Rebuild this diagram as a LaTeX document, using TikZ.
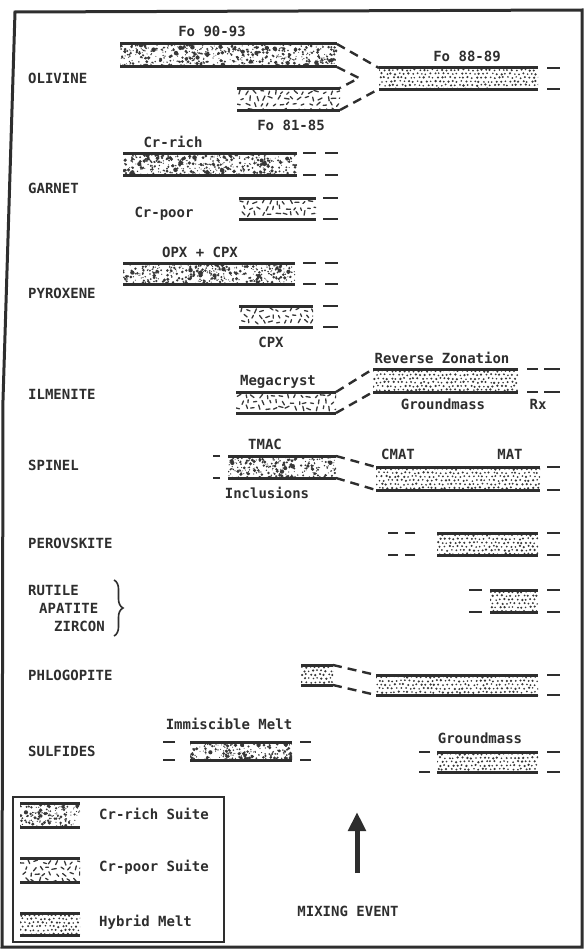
\documentclass[tikz,border=0pt]{standalone}
\usepackage{fontspec}
\setmonofont{DejaVu Sans Mono}
\usetikzlibrary{arrows.meta,decorations.pathreplacing}
\definecolor{ink}{HTML}{2E2E2E}
\definecolor{dotc}{HTML}{383838}

\newcommand\patrich[4]{%
  \pgfmathtruncatemacro\pnn{(#3-#1)*(#4-#2)/9}%
  \foreach \k in {1,...,\pnn}{%
    \pgfmathsetmacro\px{#1+rnd*(#3-#1)}%
    \pgfmathsetmacro\py{#2+rnd*(#4-#2)}%
    \pgfmathsetmacro\rr{0.5+rnd*rnd*1.9}%
    \fill[dotc] (\px,\py) circle[radius=\rr];%
  }%
}
\newcommand\patpoor[4]{%
  \pgfmathtruncatemacro\hnx{(#3-#1)/7}%
  \pgfmathtruncatemacro\hny{(#4-#2-4)/6}%
  \foreach \ii in {0,...,\hnx}{%
    \foreach \jj in {0,...,\hny}{%
      \pgfmathsetmacro\px{#1+3+7*\ii+3.5*mod(\jj,2)+(rnd-0.5)*3}%
      \pgfmathsetmacro\py{#2+4+6*\jj+(rnd-0.5)*2.5}%
      \pgfmathsetmacro\pang{rnd*180}%
      \pgfmathsetmacro\plen{1.3+rnd*1.1}%
      \pgfmathsetmacro\xa{\px+\plen*cos(\pang)}%
      \pgfmathsetmacro\ya{\py+\plen*sin(\pang)}%
      \pgfmathsetmacro\xb{\px-\plen*cos(\pang)}%
      \pgfmathsetmacro\yb{\py-\plen*sin(\pang)}%
      \draw[dotc,line width=1.3pt,line cap=round] (\xa,\ya) -- (\xb,\yb);%
    }%
  }%
}
\newcommand\pathyb[4]{%
  \pgfmathtruncatemacro\hnx{(#3-#1)/4.4}%
  \pgfmathtruncatemacro\hny{(#4-#2)/3.8}%
  \foreach \ii in {0,...,\hnx}{%
    \foreach \jj in {0,...,\hny}{%
      \pgfmathsetmacro\px{#1+1+4.4*\ii+2.2*mod(\jj,2)+(rnd-0.5)*1.8}%
      \pgfmathsetmacro\py{#2+2+3.8*\jj+(rnd-0.5)*1.4}%
      \pgfmathsetmacro\rr{0.85+rnd*0.45}%
      \fill[dotc] (\px,\py) circle[radius=\rr];%
    }%
  }%
}
% #1 name, #2 pattern, #3 seed, #4 x1, #5 y1, #6 x2, #7 y2
\newcommand\mkbar[7]{%
  \node[barbox, minimum width={(#6-#4)*1pt}, minimum height={(#7-#5)*1pt}] (#1) at ({(#4+#6)/2},{(#5+#7)/2}) {};
  \begin{scope}
    \clip (#4,#5) rectangle (#6,#7);
    \pgfmathsetseed{#3}
    \csname pat#2\endcsname{#4}{#5}{#6}{#7}
  \end{scope}
  \draw[baredge] (#1.north west) -- (#1.north east);
  \draw[baredge] (#1.south west) -- (#1.south east);
}
\newcommand\stubR[3]{%
  \draw[stubline] (#1.north east) ++(#2,0) -- ++(#3,0);
  \draw[stubline] (#1.south east) ++(#2,0) -- ++(#3,0);}
\newcommand\stubL[3]{%
  \draw[stubline] (#1.north west) ++(-#2,0) -- ++(-#3,0);
  \draw[stubline] (#1.south west) ++(-#2,0) -- ++(-#3,0);}

\tikzset{
  barbox/.style={draw=none, inner sep=0pt, outer sep=0pt, rectangle},
  baredge/.style={line width=3pt, draw=ink},
  stubline/.style={line width=2.4pt, draw=ink},
  dsh/.style={line width=2.4pt, draw=ink, dash pattern=on 9pt off 6pt},
  txt/.style={font=\ttfamily\bfseries\fontsize{14}{14}\selectfont, text=ink, inner sep=0pt, text height=10.5pt, text depth=3pt},
  caplbl/.style={txt, anchor=west},
  outframe/.style={line width=3pt, draw=ink},
}

\begin{document}
\begin{tikzpicture}[x=1pt,y=-1pt]
\useasboundingbox (0,0) rectangle (586,950);
\draw[outframe] (15,12) -- (582,10) -- (582,947) -- (2,947) -- (3,400) -- cycle;

% OLIVINE
\node[caplbl] (olivine) at (28,80) {OLIVINE};
\mkbar{fo9093}{rich}{11}{120}{44}{337}{67}
\mkbar{fo8185}{poor}{12}{237}{88}{340}{110}
\mkbar{fo8889}{hyb}{13}{379}{68}{538}{89}
\node[txt] (lfo9093) at (212,33) {Fo 90-93};
\node[txt] (lfo8185) at (291,127) {Fo 81-85};
\node[txt] (lfo8889) at (467,58) {Fo 88-89};
\coordinate (oltip) at (359,78);
\draw[dsh] (fo9093.north east) -- (fo8889.north west);
\draw[dsh] (fo9093.south east) -- (oltip) -- (fo8185.north east);
\draw[dsh] (fo8185.south east) -- (fo8889.south west);
\stubR{fo8889}{9}{13}

% GARNET
\node[caplbl] (garnet) at (28,190) {GARNET};
\mkbar{garrich}{rich}{21}{123}{153}{297}{175}
\mkbar{garpoor}{poor}{22}{239}{198}{316}{219}
\node[txt] (lcrrich) at (173,144) {Cr-rich};
\node[txt] (lcrpoor) at (164,214) {Cr-poor};
\stubR{garrich}{6}{13}
\stubR{garrich}{28}{13}
\stubR{garpoor}{7}{15}

% PYROXENE
\node[caplbl] (pyroxene) at (28,295) {PYROXENE};
\mkbar{opxcpx}{rich}{31}{123}{263}{295}{284}
\mkbar{cpx}{poor}{32}{239}{306}{313}{327}
\node[txt] (lopx) at (200,254) {OPX + CPX};
\node[txt] (lcpx) at (271,344) {CPX};
\stubR{opxcpx}{8}{13}
\stubR{opxcpx}{30}{13}
\stubR{cpx}{10}{15}

% ILMENITE
\node[caplbl] (ilmenite) at (28,396) {ILMENITE};
\mkbar{mega}{poor}{41}{236}{392}{336}{413}
\mkbar{revz}{hyb}{42}{373}{369}{518}{392}
\node[txt] (lmega) at (278,382) {Megacryst};
\node[txt] (lrevz) at (442,360) {Reverse Zonation};
\node[txt] (lgm1) at (443,406) {Groundmass};
\node[txt] (lrx) at (538,406) {Rx};
\draw[dsh] (mega.north east) -- (revz.north west);
\draw[dsh] (mega.south east) -- (revz.south west);
\stubR{revz}{9}{11}
\stubR{revz}{26}{16}

% SPINEL
\node[caplbl] (spinel) at (28,467) {SPINEL};
\mkbar{tmac}{rich}{51}{228}{456}{336}{478}
\mkbar{spin}{hyb}{52}{376}{467}{540}{490}
\node[txt] (ltmac) at (265,446) {TMAC};
\node[txt] (lincl) at (267,495) {Inclusions};
\node[txt] (lcmat) at (398,456) {CMAT};
\node[txt] (lmat) at (510,456) {MAT};
\draw[dsh] (tmac.north east) -- (spin.north west);
\draw[dsh] (tmac.south east) -- (spin.south west);
\stubL{tmac}{8}{7}
\stubR{spin}{7}{13}

% PEROVSKITE
\node[caplbl] (perov) at (28,545) {PEROVSKITE};
\mkbar{perovb}{hyb}{61}{437}{533}{538}{555}
\stubL{perovb}{22}{10}
\stubL{perovb}{39}{10}
\stubR{perovb}{9}{13}

% RUTILE APATITE ZIRCON
\node[caplbl] (rutile) at (28,592) {RUTILE};
\node[caplbl] (apatite) at (39,610) {APATITE};
\node[caplbl] (zircon) at (54,628) {ZIRCON};
\coordinate (brtop) at (114,580);
\coordinate (brbot) at (114,636);
\draw[ink, line width=1.6pt, decorate, decoration={brace, amplitude=9pt}] (brtop) -- (brbot);
\mkbar{rutb}{hyb}{71}{490}{590}{538}{612}
\stubL{rutb}{8}{13}
\stubR{rutb}{9}{13}

% PHLOGOPITE
\node[caplbl] (phlog) at (28,677) {PHLOGOPITE};
\mkbar{phls}{hyb}{81}{301}{665}{333}{685}
\mkbar{phlr}{hyb}{82}{376}{675}{538}{695}
\draw[dsh] (phls.north east) -- (phlr.north west);
\draw[dsh] (phls.south east) -- (phlr.south west);
\stubR{phlr}{9}{13}

% SULFIDES
\node[caplbl] (sulf) at (28,753) {SULFIDES};
\mkbar{immb}{rich}{91}{190}{742}{292}{760}
\node[txt] (limm) at (229,726) {Immiscible Melt};
\stubL{immb}{15}{12}
\stubR{immb}{8}{11}
\mkbar{sgm}{hyb}{92}{437}{752}{538}{772}
\node[txt] (lgm2) at (480,740) {Groundmass};
\stubL{sgm}{7}{11}
\stubR{sgm}{9}{13}

% LEGEND
\node[draw=ink, line width=1.8pt, minimum width=211pt, minimum height=145pt, inner sep=0pt] (legend) at (118.5,869.5) {};
\mkbar{lgrich}{rich}{101}{20}{803}{80}{827}
\mkbar{lgpoor}{poor}{102}{20}{858}{80}{882}
\mkbar{lghyb}{hyb}{103}{20}{913}{80}{935}
\node[txt, anchor=west] (tlrich) at (99,816) {Cr-rich Suite};
\node[txt, anchor=west] (tlpoor) at (99,868) {Cr-poor Suite};
\node[txt, anchor=west] (tlhyb) at (99,923) {Hybrid Melt};

% MIXING EVENT
\coordinate (arrbase) at (357,873);
\coordinate (arrtip) at (357,812);
\draw[ink, line width=5pt, -{Triangle[length=19pt,width=17pt]}] (arrbase) -- (arrtip);
\node[txt] (lmix) at (348,913) {MIXING EVENT};
\end{tikzpicture}
\end{document}
